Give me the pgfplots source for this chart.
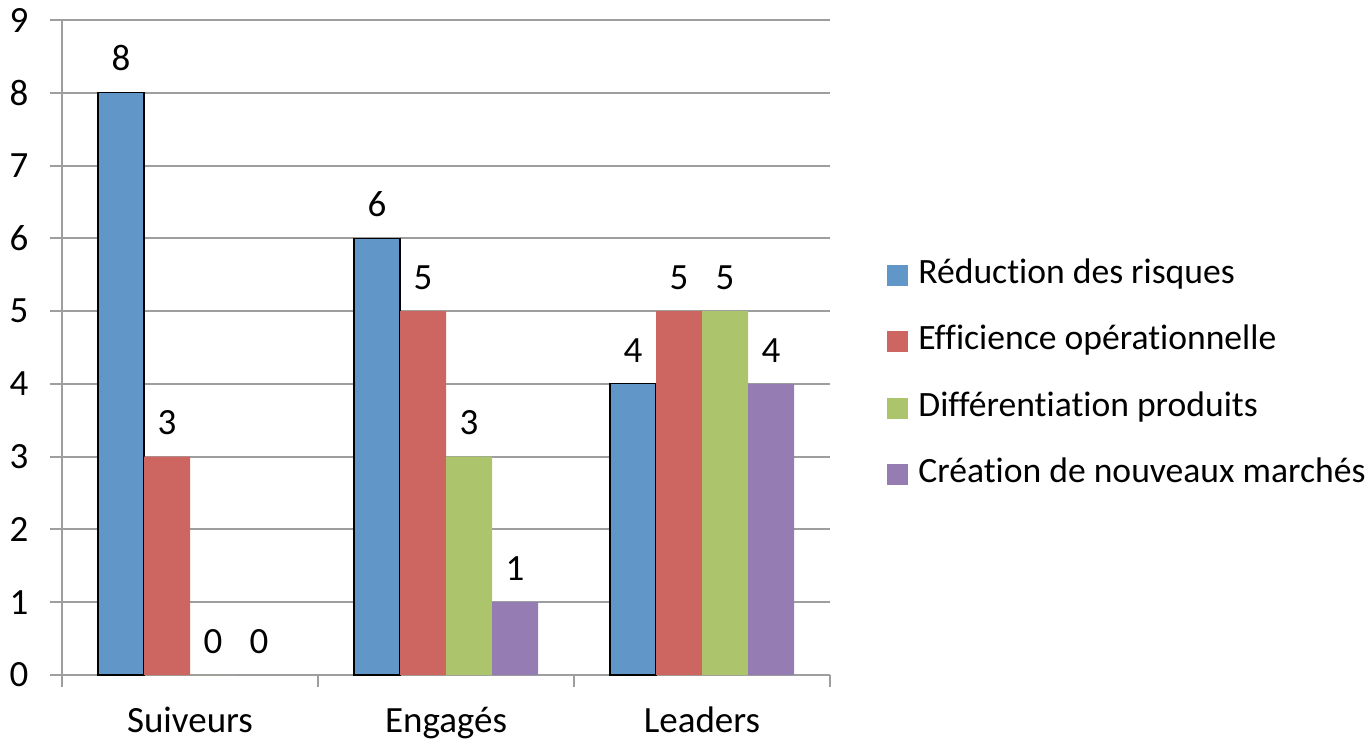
\documentclass[border=0pt]{standalone}
\usepackage{pgfplots}
\pgfplotsset{compat=1.18}
\usepackage{fontspec}
\setmainfont{Carlito}[Ligatures=NoCommon]

\definecolor{gridgray}{RGB}{158,158,158}
\definecolor{cblue}{RGB}{97,150,201}
\definecolor{cred}{RGB}{205,102,96}
\definecolor{cgreen}{RGB}{172,197,109}
\definecolor{cpurple}{RGB}{149,124,178}

\begin{document}
\begin{tikzpicture}
\useasboundingbox (-31pt,-32.5pt) rectangle (654pt,337.5pt);
\begin{axis}[
  scale only axis,
  width=384pt, height=327.5pt,
  ybar=0pt, bar width=23pt,
  xmin=-0.5, xmax=2.5, ymin=0, ymax=9,
  xtick={0,1,2},
  xticklabels={Suiveurs,Engagés,Leaders},
  minor xtick={-0.5,0.5,1.5,2.5},
  ytick={0,1,...,9},
  axis x line*=bottom, axis y line*=left,
  axis line style={gridgray, line width=1pt},
  ymajorgrids,
  major grid style={gridgray, line width=1pt},
  tick align=outside,
  major tick length=6pt, minor tick length=6pt,
  major x tick style={draw=none},
  minor x tick style={gridgray, line width=1pt},
  y tick style={gridgray, line width=1pt},
  tick label style={font=\fontsize{18.5}{22}\selectfont, black},
  yticklabel style={xshift=-7.3pt},
  xticklabel style={inner ysep=0pt, yshift=-9.7pt},
  /pgf/number format/assume math mode=true,
  nodes near coords,
  every node near coord/.append style={font=\fontsize{18.5}{22}\selectfont, black, anchor=south, yshift=7.2pt},
  legend style={at={(1.0742,0.458)}, anchor=west, draw=none, fill=none,
    inner sep=0pt, font=\fontsize{17.8}{21}\selectfont,
    nodes={text height=12pt, text depth=4pt, inner ysep=0pt, inner xsep=5pt},
    row sep=17.25pt},
  legend cell align=left,
  legend image code/.code={\fill[#1, draw=none] (0pt,-5.25pt) rectangle (10.5pt,5.25pt);},
]
\addplot[fill=cblue, draw=black, line width=0.6pt] coordinates {(0,8) (1,6) (2,4)};
\addplot[fill=cred, draw=none] coordinates {(0,3) (1,5) (2,5)};
\addplot[fill=cgreen, draw=none] coordinates {(0,0) (1,3) (2,5)};
\addplot[fill=cpurple, draw=none] coordinates {(0,0) (1,1) (2,4)};
\legend{Réduction des risques, Efficience opérationnelle, Différentiation produits, Création de nouveaux marchés}
\end{axis}
\end{tikzpicture}
\end{document}
